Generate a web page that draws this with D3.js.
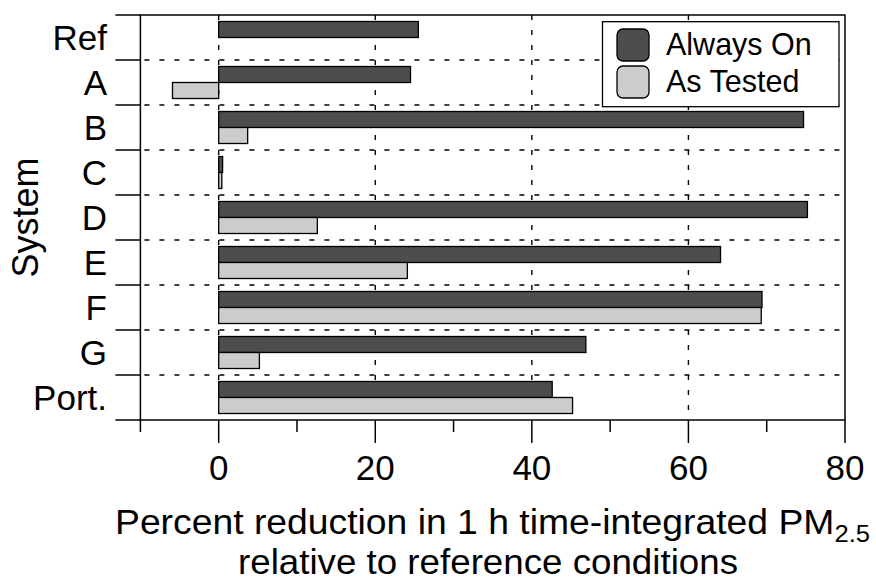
<!DOCTYPE html>
<html>
<head>
<meta charset="utf-8">
<script src="https://cdn.jsdelivr.net/npm/d3@7"></script>
<style>
  html, body { margin: 0; padding: 0; background: #fff; }
  svg { display: block; font-family: "Liberation Sans", Arial, Helvetica, sans-serif; }
</style>
</head>
<body>
<svg id="chart" width="876" height="582"></svg>
<script>
// ---- data ----
const categories = ["Ref", "A", "B", "C", "D", "E", "F", "G", "Port."];
const seriesNames = ["Always On", "As Tested"];
const alwaysOn = [25.5, 24.5, 74.7, 0.5, 75.2, 64.1, 69.4, 46.9, 42.6];
const asTested = [null, -5.9, 3.7, 0.4, 12.6, 24.1, 69.3, 5.2, 45.2];
const xTicks = [-10, 0, 10, 20, 30, 40, 50, 60, 70, 80];
const xTickLabels = ["", "0", "", "20", "", "40", "", "60", "", "80"];
const gridValues = [0, 20, 40, 60];
const colors = ["#4d4d4d", "#cccccc"];

// ---- layout ----
const svg = d3.select("#chart");
const pL = 140.4, pR = 845, pT = 15, pB = 420;

const x = d3.scaleLinear().domain([-10, 80]).range([pL, pR]);
const y = d3.scaleBand().domain(categories).range([pT, pB]).paddingInner(0).paddingOuter(0);
const y1 = d3.scaleBand().domain(seriesNames).range([0, y.bandwidth()]).paddingInner(0).paddingOuter(0.406);
const color = d3.scaleOrdinal().domain(seriesNames).range(colors);

const rows = categories.map((c, i) => ({ cat: c, values: [
  { s: seriesNames[0], v: alwaysOn[i] },
  { s: seriesNames[1], v: asTested[i] }
]}));

// grid
const grid = svg.append("g").attr("stroke", "#000").attr("stroke-width", 1.4).attr("stroke-dasharray", "5,10");
grid.selectAll("line.v").data(gridValues).join("line").attr("class", "v")
  .attr("x1", d => x(d)).attr("x2", d => x(d)).attr("y1", pT).attr("y2", pB);
grid.selectAll("line.h").data(categories.slice(1)).join("line").attr("class", "h")
  .attr("x1", pL).attr("x2", pR).attr("y1", d => y(d)).attr("y2", d => y(d))
  .attr("stroke-dashoffset", -4);

// bars
const gRows = svg.append("g").selectAll("g").data(rows).join("g")
  .attr("transform", d => `translate(0,${y(d.cat)})`);
gRows.selectAll("rect").data(d => d.values.filter(e => e.v !== null)).join("rect")
  .attr("x", d => x(Math.min(0, d.v)))
  .attr("width", d => Math.abs(x(d.v) - x(0)))
  .attr("y", d => y1(d.s))
  .attr("height", y1.bandwidth())
  .attr("fill", d => color(d.s))
  .attr("stroke", "#000").attr("stroke-width", 1.3);

// frame
svg.append("rect").attr("x", pL).attr("y", pT).attr("width", pR - pL).attr("height", pB - pT)
  .attr("fill", "none").attr("stroke", "#000").attr("stroke-width", 1.5);

// x axis
const xAxis = svg.append("g").attr("stroke", "#000").attr("stroke-width", 1.5);
xAxis.selectAll("line").data(xTicks).join("line")
  .attr("x1", d => x(d)).attr("x2", d => x(d))
  .attr("y1", pB).attr("y2", (d, i) => pB + (xTickLabels[i] ? 23 : 12));
svg.append("g").selectAll("text").data(xTicks).join("text")
  .attr("x", d => x(d)).attr("y", 479.5)
  .attr("text-anchor", "middle").attr("font-size", 35).attr("fill", "#000")
  .text((d, i) => xTickLabels[i]);

// y axis ticks (band boundaries)
const yBounds = categories.map(c => y(c)).concat([y.range()[1]]);
svg.append("g").attr("stroke", "#000").attr("stroke-width", 1.5)
  .selectAll("line").data(yBounds).join("line")
  .attr("x1", pL - 25).attr("x2", pL).attr("y1", d => d).attr("y2", d => d);
svg.append("g").selectAll("text").data(categories).join("text")
  .attr("x", 107).attr("y", d => y(d) + y.bandwidth() / 2 + 12.5)
  .attr("text-anchor", "end").attr("font-size", 35).attr("fill", "#000")
  .text(d => d);

// y title
svg.append("text")
  .attr("transform", `translate(38,${(pT + pB) / 2}) rotate(-90)`)
  .attr("text-anchor", "middle").attr("font-size", 36).attr("fill", "#000")
  .text("System");

// x title
const t1 = svg.append("text").attr("x", 115).attr("y", 534)
  .attr("text-anchor", "start").attr("font-size", 35).attr("fill", "#000")
  .attr("textLength", 755).attr("lengthAdjust", "spacingAndGlyphs");
t1.append("tspan").text("Percent reduction in 1 h time-integrated PM");
t1.append("tspan").attr("font-size", 24).attr("dy", 8).text("2.5");
svg.append("text").attr("x", 238).attr("y", 574)
  .attr("text-anchor", "start").attr("font-size", 35).attr("fill", "#000")
  .attr("textLength", 500).attr("lengthAdjust", "spacingAndGlyphs")
  .text("relative to reference conditions");

// legend
const lg = svg.append("g");
lg.append("rect").attr("x", 602.5).attr("y", 21.7).attr("width", 236.5).attr("height", 85)
  .attr("fill", "#fff").attr("stroke", "#000").attr("stroke-width", 1.3);
const items = lg.selectAll("g").data(seriesNames).join("g")
  .attr("transform", (d, i) => `translate(617,${29 + i * 37})`);
items.append("rect").attr("width", 32).attr("height", 32).attr("rx", 6).attr("ry", 6)
  .attr("fill", d => color(d)).attr("stroke", "#000").attr("stroke-width", 1.3);
items.append("text").attr("x", 49).attr("y", 25.5).attr("font-size", 30.5).attr("fill", "#000")
  .text(d => d);
</script>
</body>
</html>
